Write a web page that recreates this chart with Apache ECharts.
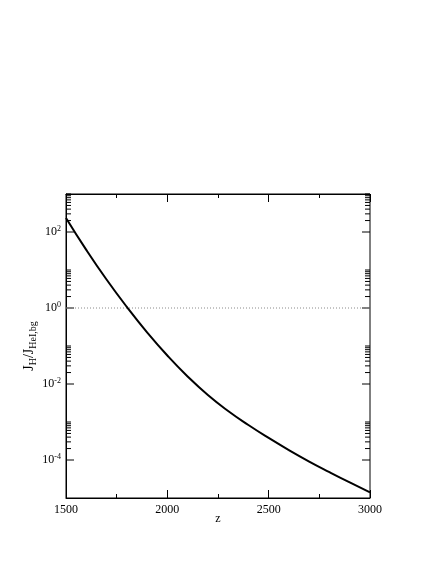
<!DOCTYPE html>
<html>
<head>
<meta charset="utf-8">
<script src="https://cdn.jsdelivr.net/npm/echarts@6/dist/echarts.min.js"></script>
<style>html,body{margin:0;padding:0;background:#fff}#c{width:436px;height:564px}</style>
</head>
<body>
<div id="c"></div>
<script>
// Data
const zValues = [1500, 1600, 1700, 1800, 1900, 2000, 2100, 2200, 2300, 2400, 2500, 2600, 2700, 2800, 2900, 3000];
const ratioValues = [234, 33.9, 5.62, 1.07, 0.229, 0.0562, 0.0158, 0.00513, 0.00195, 8.32e-4, 3.80e-4, 1.82e-4, 9.12e-5, 4.79e-5, 2.57e-5, 1.41e-5];
const refLineZ = [1500, 3000];
const refLineY = [1, 1];
const xTickLabels = [1500, 2000, 2500, 3000];
const yMajorTicks = [1e-4, 1e-2, 1, 100];
const yMinorMantissas = [2, 3, 4, 5, 6, 7, 8, 9, 10];
const yLabelExponents = [-4, -2, 0, 2];

const curve = zValues.map((z, i) => [z, ratioValues[i]]);
const refLine = refLineZ.map((z, i) => [z, refLineY[i]]);
const tickData = [];
yMajorTicks.forEach(b => {
  tickData.push([b, 1]);
  yMinorMantissas.forEach(m => tickData.push([b * m, 0]));
});

const serif = 'Liberation Serif';
const chart = echarts.init(document.getElementById('c'), null, {renderer: 'canvas'});
const xCommon = {
  type: 'value', min: 1500, max: 3000, interval: 500,
  axisLine: {show: true, lineStyle: {color: '#000', width: 1}},
  axisTick: {show: true, inside: true, length: 8, lineStyle: {color: '#000'}},
  minorTick: {show: true, splitNumber: 2, length: 4, lineStyle: {color: '#000'}},
  splitLine: {show: false}, minorSplitLine: {show: false}
};
chart.setOption({
  backgroundColor: '#fff',
  animation: false,
  grid: {left: 66, right: 66, top: 194, bottom: 66, show: true, borderColor: '#000', borderWidth: 1, backgroundColor: 'transparent'},
  xAxis: [
    Object.assign({}, xCommon, {
      position: 'bottom',
      name: 'z', nameLocation: 'middle', nameGap: 15, nameMoveOverlap: false,
      nameTextStyle: {fontFamily: serif, fontSize: 12, color: '#000'},
      axisLabel: {show: true, margin: 6, fontFamily: serif, fontSize: 12, color: '#000',
        formatter: v => xTickLabels.indexOf(v) >= 0 ? String(v) : ''}
    }),
    Object.assign({}, xCommon, {position: 'top', axisLabel: {show: false}})
  ],
  yAxis: {
    type: 'log', min: 1e-5, max: 1e3, logBase: 10,
    axisLine: {show: true, lineStyle: {color: '#000', width: 1}},
    axisTick: {show: false},
    splitLine: {show: false},
    name: '{j|J}{sub|H}{j|/J}{sub|HeI,bg}',
    nameLocation: 'middle', nameGap: 28, nameMoveOverlap: false,
    nameTextStyle: {
      color: '#000',
      rich: {
        j: {fontFamily: serif, fontSize: 14, color: '#000'},
        sub: {fontFamily: serif, fontSize: 10, color: '#000', padding: [8, 0, 0, 0]}
      }
    },
    axisLabel: {
      margin: 5, color: '#000',
      formatter: v => {
        const e = Math.round(Math.log10(v));
        if (Math.abs(Math.log10(v) - e) > 1e-6) return '';
        if (yLabelExponents.indexOf(e) < 0) return '';
        return '{b|10}{s|' + e + '}';
      },
      rich: {
        b: {fontFamily: serif, fontSize: 12, color: '#000'},
        s: {fontFamily: serif, fontSize: 8, color: '#000', padding: [0, 0, 7, 0]}
      }
    }
  },
  series: [
    {
      type: 'line', data: refLine, symbol: 'none', silent: true,
      lineStyle: {color: '#8a8a8a', width: 1, type: [1, 2]}
    },
    {
      type: 'line', data: curve, symbol: 'none', smooth: 0.5, silent: true,
      lineStyle: {color: '#000', width: 2}
    },
    {
      type: 'custom', data: tickData, silent: true, clip: false,
      renderItem: (params, api) => {
        const v = api.value(0);
        const major = api.value(1) === 1;
        const len = major ? 8 : 5;
        const pl = api.coord([1500, v]);
        const pr = api.coord([3000, v]);
        const style = {stroke: '#000', lineWidth: 1};
        return {
          type: 'group',
          children: [
            {type: 'line', shape: {x1: pl[0], y1: pl[1], x2: pl[0] + len, y2: pl[1]}, style},
            {type: 'line', shape: {x1: pr[0], y1: pr[1], x2: pr[0] - len, y2: pr[1]}, style}
          ]
        };
      }
    }
  ]
});
</script>
</body>
</html>
